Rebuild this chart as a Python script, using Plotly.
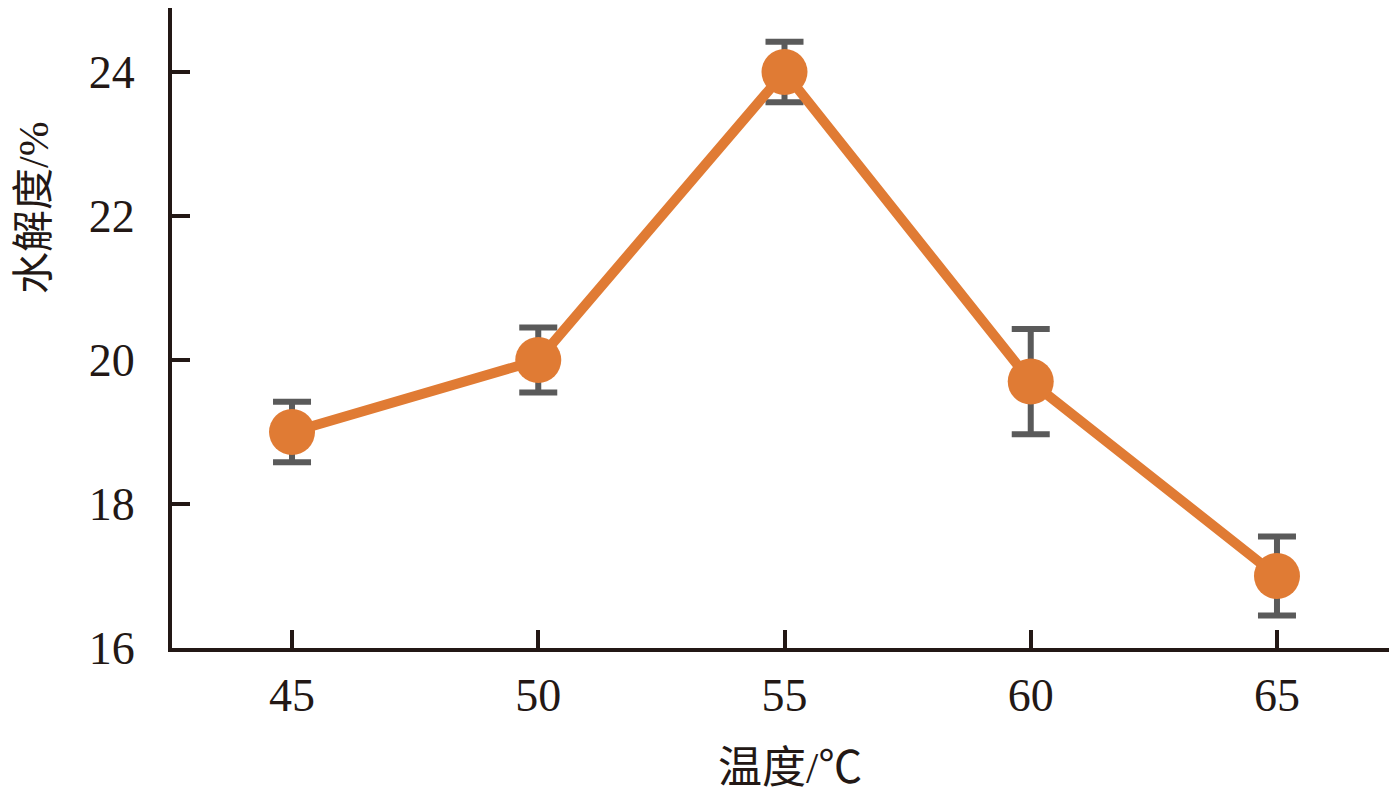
import plotly.graph_objects as go

temperature = [45, 50, 55, 60, 65]
hydrolysis = [19.0, 20.0, 24.0, 19.7, 17.0]
error = [0.42, 0.45, 0.42, 0.73, 0.55]
x_ticks = [45, 50, 55, 60, 65]
y_ticks = [16, 18, 20, 22, 24]

axis_color = "#231815"
font_family = "Liberation Serif, Noto Sans CJK SC, serif"

fig = go.Figure()
fig.add_trace(go.Scatter(
    x=temperature, y=hydrolysis, mode="lines+markers",
    line=dict(color="#E07B34", width=10),
    marker=dict(color="#E07B34", size=46),
    error_y=dict(type="data", array=error, visible=True, color="#5A5A5A",
                 thickness=6, width=19),
    showlegend=False,
))

# the page body adds an 8px offset, so the figure is 8px smaller
W, H = 1389, 787
ML, MB = 164, 147
PW, PH = W - ML, H - MB

fig.update_layout(
    width=W, height=H,
    margin=dict(l=ML, r=0, t=0, b=MB, autoexpand=False),
    paper_bgcolor="white", plot_bgcolor="white",
    font=dict(family=font_family, color=axis_color, size=46),
    xaxis=dict(
        range=[42.563, 67.437], tickvals=x_ticks, ticks="inside", ticklen=18,
        tickwidth=4, tickcolor=axis_color, showline=True, linewidth=4,
        linecolor=axis_color, showgrid=False, zeroline=False, automargin=False,
        tickfont=dict(size=46), ticklabelstandoff=4,
    ),
    yaxis=dict(
        range=[16, 24.889], tickvals=y_ticks, ticks="inside", ticklen=18,
        tickwidth=4, tickcolor=axis_color, showline=True, linewidth=4,
        linecolor=axis_color, showgrid=False, zeroline=False, automargin=False,
        tickfont=dict(size=46), ticklabelstandoff=24,
    ),
    annotations=[
        dict(text="温度/℃", xref="paper", yref="paper",
             x=(782 - ML) / PW, y=-(760 - PH) / PH,
             showarrow=False, font=dict(size=44), xanchor="center", yanchor="middle"),
        dict(text="水解度/%", xref="paper", yref="paper",
             x=-(ML - 26) / PW, y=(PH - 200) / PH,
             showarrow=False, textangle=-90, font=dict(size=42),
             xanchor="center", yanchor="middle", borderpad=0),
    ],
)

fig.write_html("out.html")
